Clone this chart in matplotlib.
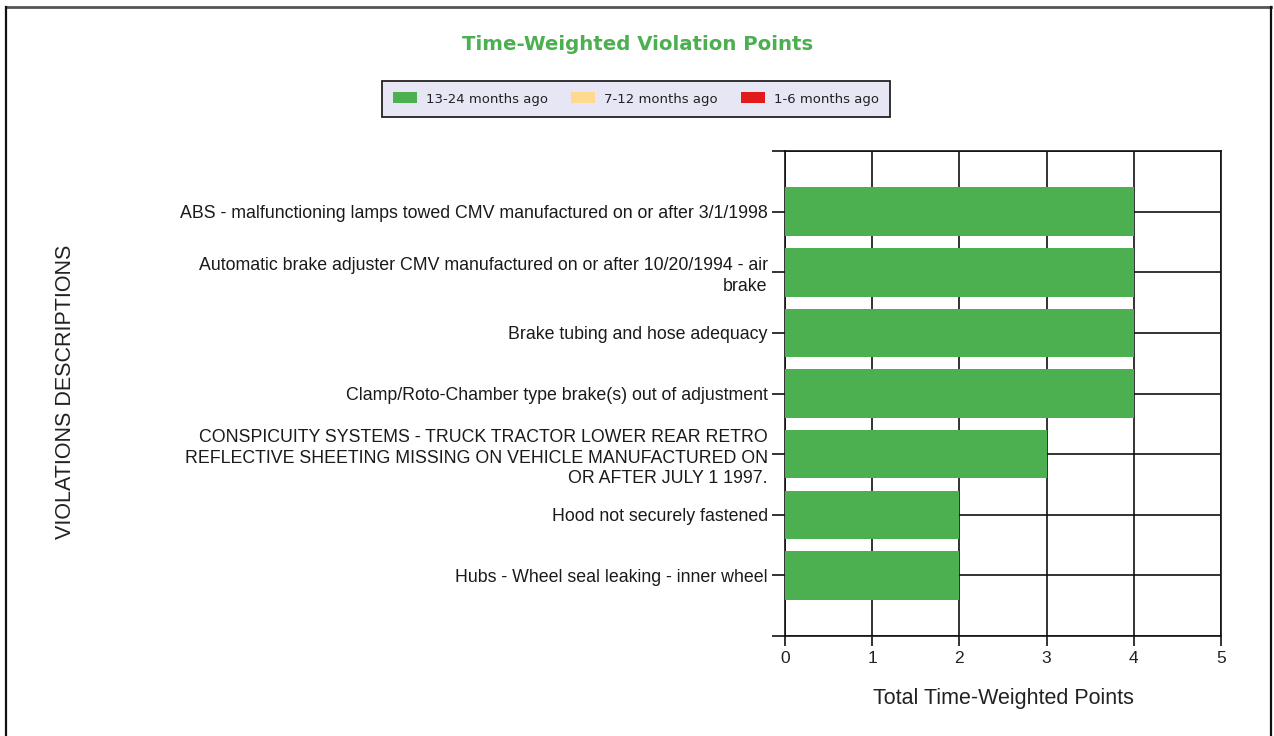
import matplotlib
matplotlib.use("Agg")
import matplotlib.pyplot as plt
from matplotlib.patches import Patch
from matplotlib.lines import Line2D

categories = [
    "ABS - malfunctioning lamps towed CMV manufactured on or after 3/1/1998",
    "Automatic brake adjuster CMV manufactured on or after 10/20/1994 - air\nbrake",
    "Brake tubing and hose adequacy",
    "Clamp/Roto-Chamber type brake(s) out of adjustment",
    "CONSPICUITY SYSTEMS - TRUCK TRACTOR LOWER REAR RETRO\nREFLECTIVE SHEETING MISSING ON VEHICLE MANUFACTURED ON\nOR AFTER JULY 1 1997.",
    "Hood not securely fastened",
    "Hubs - Wheel seal leaking - inner wheel",
]
series_names = ["13-24 months ago", "7-12 months ago", "1-6 months ago"]
vals_13_24 = [4, 4, 4, 4, 3, 2, 2]
vals_7_12 = [0, 0, 0, 0, 0, 0, 0]
vals_1_6 = [0, 0, 0, 0, 0, 0, 0]
series_colors = ["#4CAF50", "#FFD98E", "#E31A1C"]
x_ticks = [0, 1, 2, 3, 4, 5]

W, H = 1274, 736
fig = plt.figure(figsize=(W / 100, H / 100), dpi=100)
fig.patch.set_facecolor("white")

ax = fig.add_axes([785 / W, 1 - 636 / H, (1221 - 785) / W, (636 - 151) / H])
n = len(categories)
pos = list(range(n))
left = [0] * n
for vals, col in zip([vals_13_24, vals_7_12, vals_1_6], series_colors):
    ax.barh(pos, vals, left=left, height=0.8, color=col, zorder=3, linewidth=0)
    left = [a + b for a, b in zip(left, vals)]

ax.set_xlim(0, 5)
ax.set_ylim(n, -1)
ax.set_xticks(x_ticks)
ax.set_xticklabels([str(t) for t in x_ticks], fontsize=12.5, family="Liberation Sans", color="#222222")
ax.set_yticks(list(range(-1, n + 1)))
ax.set_yticklabels([""] + categories + [""], fontsize=12.8, family="Liberation Sans",
                   color="#1a1a1a", linespacing=1.3)
ax.grid(True, color="#111111", linewidth=1.2, zorder=0)
ax.set_axisbelow(True)
ax.tick_params(axis="y", length=9.5, width=1.2, color="#111111", pad=3)
ax.tick_params(axis="x", length=7.5, width=1.2, color="#111111", pad=3)
for s in ax.spines.values():
    s.set_linewidth(1.2)
    s.set_color("#111111")

ax.set_xlabel("Total Time-Weighted Points", fontsize=15.5, family="Liberation Sans",
              color="#222222", labelpad=16)
fig.text(66 / W, 1 - 392 / H, "VIOLATIONS DESCRIPTIONS", rotation=90, ha="center", va="center",
         fontsize=15.5, family="Liberation Sans", color="#222222")

fig.text(638 / W, 1 - 44 / H, "Time-Weighted Violation Points", ha="center", va="center",
         fontsize=14.2, fontweight="bold", family="DejaVu Sans", color="#4CAF50")

handles = [Patch(facecolor=c, edgecolor="none", label=l) for c, l in zip(series_colors, series_names)]
leg = fig.legend(handles=handles, loc="center", bbox_to_anchor=(636 / W, 1 - 99 / H), ncol=3,
                 frameon=True, fancybox=False, fontsize=9.5, handlelength=1.8, handleheight=0.9,
                 columnspacing=1.75, handletextpad=0.7, borderpad=0.85, borderaxespad=0)
fr = leg.get_frame()
fr.set_facecolor("#E6E6F5")
fr.set_edgecolor("#222222")
fr.set_linewidth(1.3)
fr.set_alpha(1)
for t in leg.get_texts():
    t.set_color("#222222")

# outer border
fig.add_artist(Line2D([6 / W, 1271 / W], [1 - 7 / H, 1 - 7 / H], transform=fig.transFigure,
                      color="#555555", linewidth=2))
fig.add_artist(Line2D([6 / W, 6 / W], [0, 1 - 7 / H], transform=fig.transFigure,
                      color="#111111", linewidth=1.6))
fig.add_artist(Line2D([1271 / W, 1271 / W], [0, 1 - 7 / H], transform=fig.transFigure,
                      color="#111111", linewidth=1.6))

fig.savefig("out.png", dpi=100)
